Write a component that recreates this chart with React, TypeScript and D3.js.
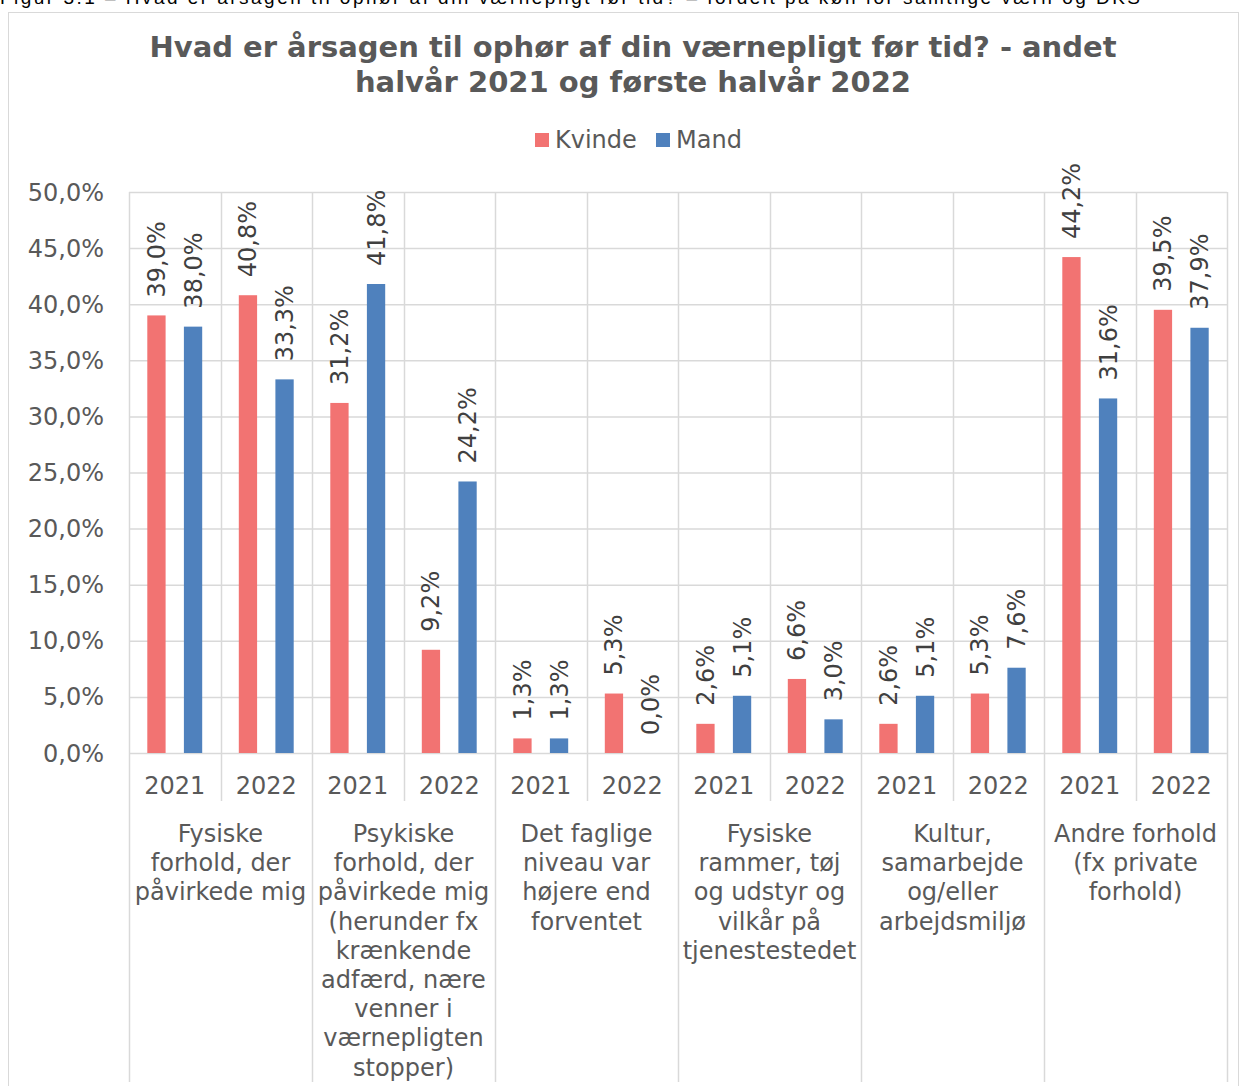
import React from 'react'
import * as d3 from 'd3'

const categories: string[][] = [
    ['Fysiske', 'forhold, der', 'påvirkede mig'],
    ['Psykiske', 'forhold, der', 'påvirkede mig', '(herunder fx', 'krænkende', 'adfærd, nære', 'venner i', 'værnepligten', 'stopper)'],
    ['Det faglige', 'niveau var', 'højere end', 'forventet'],
    ['Fysiske', 'rammer, tøj', 'og udstyr og', 'vilkår på', 'tjenestestedet'],
    ['Kultur,', 'samarbejde', 'og/eller', 'arbejdsmiljø'],
    ['Andre forhold', '(fx private', 'forhold)'],
]
const years = ['2021', '2022']
const series = ['Kvinde', 'Mand']
// per category: [2021, 2022]
const kvinde = [
    [39.0, 40.8],
    [31.2, 9.2],
    [1.3, 5.3],
    [2.6, 6.6],
    [2.6, 5.3],
    [44.2, 39.5],
]
const mand = [
    [38.0, 33.3],
    [41.8, 24.2],
    [1.3, 0.0],
    [5.1, 3.0],
    [5.1, 7.6],
    [31.6, 37.9],
]
const yTicks = [0, 5, 10, 15, 20, 25, 30, 35, 40, 45, 50]
const colors = ['#F27372', '#4F81BD']

const W = 1246
const H = 1086
const left = 129
const right = 1227
const top = 192
const bottom = 753
const font = 'DejaVu Sans, Verdana, sans-serif'
const textColor = '#595959'
const gridColor = '#d9d9d9'
const fs = 24

const fmt = (v: number) => v.toFixed(1).replace('.', ',') + '%'

const App: React.FC = () => {
    const slots = categories.flatMap((_, ci) => years.map((yr) => `${ci}-${yr}`))
    const x = d3.scaleBand().domain(slots).range([left, right]).padding(0)
    const xs = d3.scaleBand().domain(series).range([0, x.bandwidth()]).paddingInner(0.5).paddingOuter(0.5)
    const y = d3.scaleLinear().domain([0, 50]).range([bottom, top])

    const bars = categories.flatMap((_, ci) =>
        years.flatMap((yr, yi) =>
            series.map((s, si) => ({
                key: `${ci}-${yr}-${s}`,
                slot: `${ci}-${yr}`,
                s,
                si,
                v: (si === 0 ? kvinde : mand)[ci][yi],
            }))
        )
    )

    const step = x.step()

    return (
        <div style={{ position: 'absolute', left: 0, top: 0 }}>
            <svg width={W} height={H} style={{ display: 'block', background: '#fff' }}>
                <text
                    x={0}
                    y={4}
                    fontFamily="Liberation Sans Narrow, Liberation Sans, sans-serif"
                    fontSize={19}
                    fill="#000"
                    textLength={1140}
                >
                    Figur 3.1 – Hvad er årsagen til ophør af din værnepligt før tid? – fordelt på køn for samtlige værn og DKS
                </text>
                <rect x={8.5} y={12.5} width={1230} height={1100} fill="none" stroke={gridColor} strokeWidth={1} />

                <g fontFamily={font} fill={textColor}>
                    <text x={633} y={57} textAnchor="middle" fontSize={29} fontWeight="bold">
                        Hvad er årsagen til ophør af din værnepligt før tid? - andet
                    </text>
                    <text x={633} y={92} textAnchor="middle" fontSize={29} fontWeight="bold">
                        halvår 2021 og første halvår 2022
                    </text>
                </g>

                {/* legend */}
                <g fontFamily={font} fontSize={fs} fill={textColor}>
                    {series.map((s, i) => (
                        <g key={s} transform={`translate(${i === 0 ? 535 : 656},133)`}>
                            <rect width={14} height={14} fill={colors[i]} />
                            <text x={20} y={15}>
                                {s}
                            </text>
                        </g>
                    ))}
                </g>

                {/* horizontal gridlines */}
                {yTicks.map((t) => (
                    <line key={t} x1={left} x2={right} y1={y(t) + 0.5} y2={y(t) + 0.5} stroke={gridColor} strokeWidth={1.5} />
                ))}

                {/* vertical gridlines and category ticks */}
                {d3.range(slots.length + 1).map((i) => {
                    const xx = Math.round(left + i * step) + 0.5
                    const outer = i % 2 === 0
                    return (
                        <line
                            key={i}
                            x1={xx}
                            x2={xx}
                            y1={top}
                            y2={outer ? 1082 : 801}
                            stroke={gridColor}
                            strokeWidth={1.5}
                        />
                    )
                })}

                {/* y tick labels */}
                <g fontFamily={font} fontSize={fs} fill={textColor}>
                    {yTicks.map((t) => (
                        <text key={t} x={104} y={y(t) + 8.5} textAnchor="end">
                            {fmt(t)}
                        </text>
                    ))}
                </g>

                {/* bars */}
                {bars.map((b) => (
                    <rect
                        key={b.key}
                        x={(x(b.slot) || 0) + (xs(b.s) || 0)}
                        y={y(b.v)}
                        width={xs.bandwidth()}
                        height={bottom - y(b.v)}
                        fill={colors[b.si]}
                    />
                ))}

                {/* value labels */}
                <g fontFamily={font} fontSize={fs} fill="#404040">
                    {bars.map((b) => {
                        const cx = (x(b.slot) || 0) + (xs(b.s) || 0) + xs.bandwidth() / 2
                        const yy = y(b.v) - 18
                        return (
                            <text key={b.key} transform={`translate(${cx + 8.5},${yy}) rotate(-90)`} textAnchor="start">
                                {fmt(b.v)}
                            </text>
                        )
                    })}
                </g>

                {/* year labels */}
                <g fontFamily={font} fontSize={fs} fill={textColor}>
                    {slots.map((sl, i) => (
                        <text key={sl} x={(x(sl) || 0) + step / 2} y={794} textAnchor="middle">
                            {years[i % 2]}
                        </text>
                    ))}
                </g>

                {/* category labels */}
                <g fontFamily={font} fontSize={fs} fill={textColor}>
                    {categories.map((lines, ci) => (
                        <text key={ci} x={left + step * (2 * ci + 1)} y={842} textAnchor="middle">
                            {lines.map((ln, li) => (
                                <tspan key={li} x={left + step * (2 * ci + 1)} dy={li === 0 ? 0 : 29.2}>
                                    {ln}
                                </tspan>
                            ))}
                        </text>
                    ))}
                </g>
            </svg>
        </div>
    )
}

export default App
